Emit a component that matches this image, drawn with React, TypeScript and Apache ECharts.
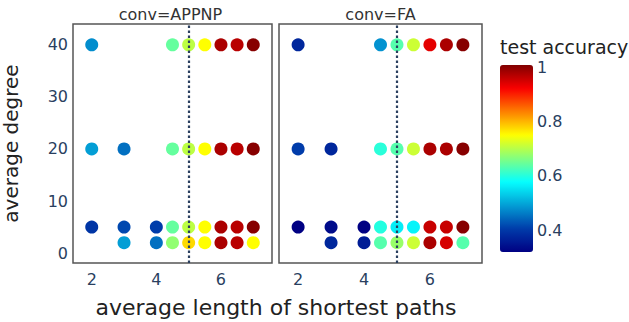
import React, { useEffect, useRef } from "react";
import * as echarts from "echarts";

// Data (x = average length of shortest paths, y = average degree, value = test accuracy)
const appnpLength = [2, 4.5, 5, 5.5, 6, 6.5, 7, 2, 3, 4.5, 5, 5.5, 6, 6.5, 7, 2, 3, 4, 4.5, 5, 5.5, 6, 6.5, 7, 3, 4, 4.5, 5, 5.5, 6, 6.5, 7];
const appnpDegree = [40, 40, 40, 40, 40, 40, 40, 20, 20, 20, 20, 20, 20, 20, 20, 5, 5, 5, 5, 5, 5, 5, 5, 5, 2, 2, 2, 2, 2, 2, 2, 2];
const appnpAccuracy = [0.475, 0.64, 0.7, 0.745, 0.97, 0.96, 0.995, 0.49, 0.45, 0.64, 0.7, 0.745, 0.97, 0.96, 0.995, 0.395, 0.415, 0.405, 0.64, 0.7, 0.745, 0.97, 0.96, 0.995, 0.49, 0.45, 0.67, 0.77, 0.745, 0.97, 0.96, 0.745];

const faLength = [2, 4.5, 5, 5.5, 6, 6.5, 7, 2, 3, 4.5, 5, 5.5, 6, 6.5, 7, 2, 3, 4, 4.5, 5, 5.5, 6, 6.5, 7, 3, 4, 4.5, 5, 5.5, 6, 6.5, 7];
const faDegree = [40, 40, 40, 40, 40, 40, 40, 20, 20, 20, 20, 20, 20, 20, 20, 5, 5, 5, 5, 5, 5, 5, 5, 5, 2, 2, 2, 2, 2, 2, 2, 2];
const faAccuracy = [0.375, 0.48, 0.63, 0.71, 0.93, 0.97, 0.995, 0.405, 0.375, 0.6, 0.63, 0.71, 0.97, 0.97, 0.995, 0.32, 0.335, 0.32, 0.595, 0.56, 0.565, 0.95, 0.95, 0.995, 0.375, 0.36, 0.63, 0.675, 0.71, 0.97, 0.94, 0.63];

const panelTitles = ["conv=APPNP", "conv=FA"];
const xTicks = [2, 4, 6];
const yTicks = [0, 10, 20, 30, 40];
const colorTicks = [0.4, 0.6, 0.8, 1];
const threshold = 5;
const accMin = 0.32;
const accMax = 1.0;

// Jet colour scale sampled at even steps of 0.125
const jet = [
  "rgb(0,0,131)",
  "rgb(0,60,170)",
  "rgb(3,158,213)",
  "rgb(5,255,255)",
  "rgb(130,255,128)",
  "rgb(255,255,0)",
  "rgb(253,128,0)",
  "rgb(250,0,0)",
  "rgb(128,0,0)",
];

const FONT = "DejaVu Sans";
const TICK_COLOR = "#2a3f5f";
const TEXT_COLOR = "#222";

function zip(xs: number[], ys: number[], vs: number[]) {
  return xs.map((x, i) => [x, ys[i], vs[i]]);
}

export default function App() {
  const ref = useRef<HTMLDivElement>(null);
  useEffect(() => {
    if (!ref.current) return;
    const chart = echarts.init(ref.current, undefined, { renderer: "svg" });
    const panelLefts = [69, 279];
    const grids = panelLefts.map((l) => ({
      left: l,
      top: 24,
      width: 203,
      height: 239,
      show: true,
      borderColor: "#555",
      borderWidth: 1.5,
      backgroundColor: "#fff",
    }));
    const xAxes = panelLefts.map((_, i) => ({
      type: "value",
      gridIndex: i,
      min: 1.42,
      max: 7.58,
      axisLine: { show: false },
      axisTick: { show: false },
      splitLine: { show: false },
      axisLabel: {
        customValues: xTicks,
        color: TICK_COLOR,
        fontFamily: FONT,
        fontSize: 16,
        margin: 8,
      },
    }));
    const yAxes = panelLefts.map((_, i) => ({
      type: "value",
      gridIndex: i,
      min: -1.9,
      max: 44,
      axisLine: { show: false },
      axisTick: { show: false },
      splitLine: { show: false },
      axisLabel: {
        show: i === 0,
        customValues: yTicks,
        color: TICK_COLOR,
        fontFamily: FONT,
        fontSize: 16,
        margin: 5,
      },
      name: i === 0 ? "average degree" : "",
      nameLocation: "middle",
      nameRotate: 90,
      nameGap: 52,
      nameTextStyle: { color: TEXT_COLOR, fontFamily: FONT, fontSize: 20 },
    }));
    const datasets = [
      zip(appnpLength, appnpDegree, appnpAccuracy),
      zip(faLength, faDegree, faAccuracy),
    ];
    const series: any[] = datasets.map((d, i) => ({
      type: "scatter",
      xAxisIndex: i,
      yAxisIndex: i,
      data: d,
      symbolSize: 13,
      itemStyle: { opacity: 1 },
      markLine: {
        silent: true,
        symbol: "none",
        label: { show: false },
        lineStyle: { type: [2.5, 2.5], color: "#2a3f5f", width: 2.2 },
        data: [{ xAxis: threshold }],
      },
    }));
    chart.setOption({
      animation: false,
      backgroundColor: "#fff",
      grid: [
        ...grids,
        { left: 500, top: 67, width: 33, height: 185, show: false },
      ],
      xAxis: [
        ...xAxes,
        { type: "value", gridIndex: 2, show: false, min: 0, max: 1 },
      ],
      yAxis: [
        ...yAxes,
        {
          type: "value",
          gridIndex: 2,
          min: accMin,
          max: accMax,
          position: "right",
          axisLine: { show: false },
          axisTick: { show: false },
          splitLine: { show: false },
          axisLabel: {
            customValues: colorTicks,
            formatter: (v: number) => String(v),
            color: TICK_COLOR,
            fontFamily: FONT,
            fontSize: 16,
            margin: 4,
          },
        },
      ],
      visualMap: {
        type: "continuous",
        min: accMin,
        max: accMax,
        dimension: 2,
        seriesIndex: [0, 1],
        calculable: false,
        left: 500,
        top: 65,
        itemWidth: 33,
        itemHeight: 187,
        padding: 0,
        text: null,
        showLabel: false,
        inRange: { color: jet },
      },
      graphic: [
        ...panelTitles.map((t, i) => ({
          type: "text",
          x: panelLefts[i] + 101.5,
          y: 14,
          style: {
            text: t,
            fill: "#333",
            font: `16px "${FONT}"`,
            textAlign: "center",
            textVerticalAlign: "middle",
          },
        })),
        {
          type: "text",
          x: 276,
          y: 307,
          style: {
            text: "average length of shortest paths",
            fill: TEXT_COLOR,
            font: `22px "${FONT}"`,
            textAlign: "center",
            textVerticalAlign: "middle",
          },
        },
        {
          type: "text",
          x: 500,
          y: 47,
          style: {
            text: "test accuracy",
            fill: TEXT_COLOR,
            font: `19px "${FONT}"`,
            textAlign: "left",
            textVerticalAlign: "middle",
          },
        },
      ],
      series,
    });
    return () => chart.dispose();
  }, []);
  return (
    <div
      ref={ref}
      style={{ position: "absolute", left: 0, top: 0, width: 629, height: 322 }}
    />
  );
}
